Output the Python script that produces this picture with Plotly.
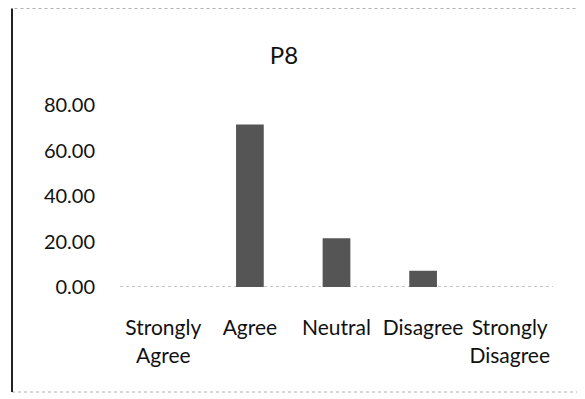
import plotly.graph_objects as go

categories = ["Strongly<br>Agree", "Agree", "Neutral", "Disagree", "Strongly<br>Disagree"]
values = [0.0, 71.43, 21.43, 7.14, 0.0]
y_ticks = [0, 20, 40, 60, 80]
y_tick_labels = ["0.00", "20.00", "40.00", "60.00", "80.00"]
title_text = "P8"

OFF = 8  # page body margin
W, H = 585 - OFF, 399 - OFF
L, R, T, B = 120 - OFF, 32, 105 - OFF, 112
pw, ph = W - L - R, H - T - B

def px_x(x):  # window pixel -> paper
    return (x - OFF - L) / pw

def px_y(y):
    return (H - B - (y - OFF)) / ph

fig = go.Figure(go.Bar(
    x=categories, y=values,
    marker=dict(color="#555555", line=dict(width=0)),
))

fig.update_layout(
    width=W, height=H,
    margin=dict(l=L, r=R, t=T, b=B),
    paper_bgcolor="white", plot_bgcolor="white",
    bargap=0.68,
    showlegend=False,
    font=dict(family="Lato", size=20, color="#111111"),
    title=dict(text=title_text, x=(284 - OFF) / W, xanchor="center",
               y=1 - (56 - OFF) / H, yanchor="middle",
               font=dict(family="Lato", size=24, color="#111111")),
    xaxis=dict(showline=False, showgrid=False, zeroline=False,
               ticks="outside", ticklen=22, tickcolor="rgba(0,0,0,0)",
               tickangle=0, tickfont=dict(size=21)),
    yaxis=dict(range=[0, 80], tickvals=y_ticks, ticktext=y_tick_labels,
               showline=False, showgrid=False, zeroline=False,
               ticks="outside", ticklen=20, tickcolor="rgba(0,0,0,0)"),
    shapes=[
        dict(type="line", xref="paper", yref="y", x0=0, x1=1, y0=0, y1=0,
             line=dict(color="#8a8a8a", width=1, dash="dot"), layer="below"),
        dict(type="rect", xref="paper", yref="paper",
             x0=px_x(12), x1=px_x(582), y0=px_y(392), y1=px_y(8.5),
             line=dict(color="#b0b0b0", width=1, dash="dot")),
        dict(type="line", xref="paper", yref="paper",
             x0=px_x(12), x1=px_x(12), y0=px_y(392), y1=px_y(8.5),
             line=dict(color="#222222", width=2)),
    ],
)

fig.write_html("out.html")
